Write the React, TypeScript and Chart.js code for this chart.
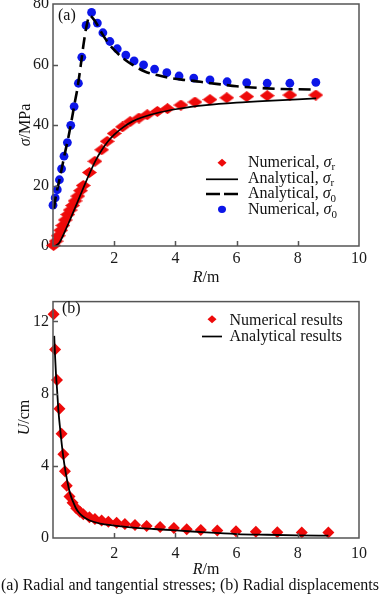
import React, { useEffect, useRef } from 'react';
import { Chart, registerables } from 'chart.js';

Chart.register(...registerables);

const FONT = '"Liberation Serif", "Times New Roman", Times, serif';
const RED = '#ee0a0a';
const BLUE = '#0c16e8';
const FRAME = '#555555';

// ---------- (a) Radial and tangential stresses ----------
const sigmaRNumX = [0.02, 0.1, 0.17, 0.25, 0.32, 0.4, 0.48, 0.56, 0.64, 0.72, 0.81, 0.9, 0.99, 1.19, 1.37, 1.59, 1.77, 2.0, 2.27, 2.52, 2.81, 3.08, 3.41, 3.74, 4.18, 4.64, 5.13, 5.68, 6.33, 7.0, 7.74, 8.59];
const sigmaRNumY = [0.2, 1.6, 3.4, 5.2, 6.8, 8.6, 10.4, 11.9, 13.4, 14.9, 16.5, 18.3, 20.0, 24.3, 28.0, 31.8, 34.6, 37.2, 39.4, 41.1, 42.3, 43.4, 44.5, 45.4, 46.6, 47.6, 48.4, 49.0, 49.4, 49.7, 49.9, 49.9];

const sigmaRAnaX = [0.06, 0.2, 0.4, 0.6, 0.8, 1.0, 1.2, 1.4, 1.6, 1.8, 2.0, 2.3, 2.6, 3.0, 3.5, 4.0, 4.5, 5.0, 6.0, 7.0, 8.0, 8.6];
const sigmaRAnaY = [0.0, 1.0, 5.1, 9.7, 14.5, 19.4, 24.1, 28.4, 31.8, 34.6, 36.8, 39.3, 41.2, 42.8, 44.2, 45.2, 46.0, 46.6, 47.4, 48.0, 48.5, 48.8];

const sigmaTAnaX = [0.03, 0.1, 0.2, 0.3, 0.4, 0.5, 0.6, 0.7, 0.8, 0.9, 1.0, 1.1, 1.2, 1.3, 1.45, 1.6, 1.8, 2.0, 2.3, 2.6, 3.0, 3.4, 3.8, 4.2, 4.6, 5.0, 5.5, 6.0, 6.5, 7.0, 7.5, 8.0, 8.6];
const sigmaTAnaY = [12.4, 16.8, 21.4, 26.3, 31.2, 35.8, 41.1, 46.8, 52.2, 59.2, 66.8, 72.9, 76.2, 75.3, 73.1, 70.3, 67.2, 64.8, 62.0, 59.9, 57.7, 56.5, 55.6, 55.0, 54.6, 54.0, 53.4, 52.8, 52.4, 52.1, 51.9, 51.8, 51.7];

const sigmaTNumX = [0.0, 0.07, 0.14, 0.21, 0.28, 0.36, 0.47, 0.58, 0.69, 0.83, 0.94, 1.08, 1.26, 1.45, 1.63, 1.86, 2.1, 2.38, 2.65, 2.96, 3.32, 3.72, 4.12, 4.6, 5.13, 5.69, 6.33, 7.0, 7.74, 8.59];
const sigmaTNumY = [13.5, 15.9, 18.6, 21.9, 25.5, 29.7, 34.2, 39.9, 46.1, 53.8, 62.4, 72.9, 77.2, 73.7, 70.5, 67.6, 65.2, 63.1, 61.2, 59.9, 58.5, 57.3, 56.2, 55.5, 54.9, 54.3, 54.0, 53.8, 53.8, 54.1];

// ---------- (b) Radial displacements ----------
const uNumX = [0.02, 0.07, 0.13, 0.21, 0.28, 0.34, 0.39, 0.45, 0.54, 0.64, 0.76, 0.88, 0.99, 1.19, 1.37, 1.59, 1.81, 2.08, 2.35, 2.68, 3.06, 3.5, 3.95, 4.37, 4.83, 5.37, 5.98, 6.63, 7.33, 8.13, 9.0];
const uNumY = [12.4, 10.45, 8.75, 7.16, 5.78, 4.64, 3.7, 2.9, 2.3, 1.95, 1.65, 1.45, 1.32, 1.15, 1.05, 0.97, 0.9, 0.84, 0.78, 0.72, 0.67, 0.61, 0.55, 0.48, 0.45, 0.41, 0.38, 0.35, 0.32, 0.31, 0.3];

const uAnaX = [0.04, 0.07, 0.1, 0.13, 0.18, 0.23, 0.3, 0.37, 0.45, 0.53, 0.6, 0.66, 0.75, 0.85, 1.0, 1.2, 1.54, 2.0, 2.62, 3.3, 4.04, 5.0, 6.0, 7.0, 8.0, 9.0];
const uAnaY = [11.2, 10.0, 9.0, 8.3, 7.0, 6.1, 5.0, 4.1, 3.3, 2.65, 2.25, 2.0, 1.65, 1.4, 1.16, 0.97, 0.8, 0.69, 0.58, 0.5, 0.42, 0.31, 0.22, 0.18, 0.15, 0.13];

// ---------- ticks ----------
const xTickLabels = [2, 4, 6, 8, 10];
const stressTicks = [0, 20, 40, 60, 80];
const dispTicks = [0, 4, 8, 12];

const legendA = [
  { text: 'Numerical, ', sub: 'r', kind: 'diamond' },
  { text: 'Analytical, ', sub: 'r', kind: 'solid' },
  { text: 'Analytical, ', sub: '0', kind: 'dash' },
  { text: 'Numerical, ', sub: '0', kind: 'circle' },
];
const legendB = [
  { text: 'Numerical results', kind: 'diamond' },
  { text: 'Analytical results', kind: 'solid' },
];

const zip = (xs: number[], ys: number[]) => xs.map((x, i) => ({ x, y: ys[i] }));

type Part = { t: string; it?: boolean; sub?: boolean };

function partFont(p: Part, size: number) {
  return `${p.it ? 'italic ' : ''}${p.sub ? Math.round(size * 0.68) : size}px ${FONT}`;
}

function drawRich(ctx: CanvasRenderingContext2D, parts: Part[], x: number, y: number, size: number, align: 'left' | 'center') {
  ctx.save();
  ctx.textBaseline = 'alphabetic';
  ctx.textAlign = 'left';
  ctx.fillStyle = '#111';
  let w = 0;
  for (const p of parts) {
    ctx.font = partFont(p, size);
    w += ctx.measureText(p.t).width;
  }
  let cx = align === 'center' ? x - w / 2 : x;
  for (const p of parts) {
    ctx.font = partFont(p, size);
    ctx.fillText(p.t, cx, p.sub ? y + size * 0.22 : y);
    cx += ctx.measureText(p.t).width;
  }
  ctx.restore();
}

function diamondImage(w: number, h: number, color: string) {
  const c = document.createElement('canvas');
  c.width = w;
  c.height = h;
  const g = c.getContext('2d')!;
  g.fillStyle = color;
  g.beginPath();
  g.moveTo(w / 2, 0);
  g.lineTo(w, h / 2);
  g.lineTo(w / 2, h);
  g.lineTo(0, h / 2);
  g.closePath();
  g.fill();
  return c;
}

type Decor = {
  panel: string;
  panelX: number;
  panelY: number;
  xTitleY: number;
  yTitle: Part[];
  yTitleX: number;
  yTitleCY: number;
  yTickMarks: number[];
  legend: { text: string; sub?: string; kind: string }[];
  legMarkX: number;
  legLineX0: number;
  legLineX1: number;
  legTextX: number;
  legRows: number[];
  legBase: number[];
};

function decorPlugin(d: Decor) {
  return {
    id: 'decor',
    afterDraw(chart: any) {
      const ctx: CanvasRenderingContext2D = chart.ctx;
      const a = chart.chartArea;
      const xs = chart.scales.x;
      const ys = chart.scales.y;
      ctx.save();
      // frame
      ctx.strokeStyle = FRAME;
      ctx.lineWidth = 1.5;
      ctx.strokeRect(a.left, a.top, a.right - a.left, a.bottom - a.top);
      // inward tick marks
      ctx.beginPath();
      for (const v of [2, 4, 6, 8]) {
        const px = Math.round(xs.getPixelForValue(v)) + 0.5;
        ctx.moveTo(px, a.bottom);
        ctx.lineTo(px, a.bottom - 5);
      }
      for (const v of d.yTickMarks) {
        const py = Math.round(ys.getPixelForValue(v)) + 0.5;
        ctx.moveTo(a.left, py);
        ctx.lineTo(a.left + 5, py);
      }
      ctx.stroke();
      ctx.restore();

      // panel label
      drawRich(ctx, [{ t: d.panel }], d.panelX, d.panelY, 16, 'left');
      // x title
      drawRich(ctx, [{ t: 'R', it: true }, { t: '/m' }], (a.left + a.right) / 2, d.xTitleY, 16, 'center');
      // y title
      ctx.save();
      ctx.translate(d.yTitleX, d.yTitleCY);
      ctx.rotate(-Math.PI / 2);
      drawRich(ctx, d.yTitle, 0, 0, 16, 'center');
      ctx.restore();

      // legend
      d.legend.forEach((item, i) => {
        const cy = d.legRows[i];
        ctx.save();
        if (item.kind === 'diamond') {
          ctx.fillStyle = RED;
          ctx.beginPath();
          ctx.moveTo(d.legMarkX, cy - 4);
          ctx.lineTo(d.legMarkX + 4.5, cy);
          ctx.lineTo(d.legMarkX, cy + 4);
          ctx.lineTo(d.legMarkX - 4.5, cy);
          ctx.closePath();
          ctx.fill();
        } else if (item.kind === 'circle') {
          ctx.fillStyle = BLUE;
          ctx.beginPath();
          ctx.ellipse(d.legMarkX, cy, 4, 3.6, 0, 0, Math.PI * 2);
          ctx.fill();
        } else {
          ctx.strokeStyle = '#000';
          ctx.lineWidth = item.kind === 'dash' ? 2.6 : 1.7;
          ctx.setLineDash(item.kind === 'dash' ? [14, 4] : []);
          ctx.beginPath();
          ctx.moveTo(d.legLineX0, cy);
          ctx.lineTo(d.legLineX1, cy);
          ctx.stroke();
        }
        ctx.restore();
        const parts: Part[] = item.sub
          ? [{ t: item.text }, { t: 'σ', it: true }, { t: item.sub, sub: true }]
          : [{ t: item.text }];
        drawRich(ctx, parts, d.legTextX, d.legBase[i], 16, 'left');
      });
    },
  };
}

function baseScales(yMax: number, yTicks: number[], xHeight: number, xPad: number) {
  return {
    x: {
      type: 'linear',
      min: 0,
      max: 10,
      afterBuildTicks: (s: any) => {
        s.ticks = xTickLabels.map((v) => ({ value: v }));
      },
      afterFit: (s: any) => {
        s.height = xHeight;
      },
      grid: { display: false, drawTicks: false, tickLength: 0 },
      border: { display: false },
      ticks: { font: { family: FONT, size: 16 }, color: '#1a1a1a', padding: xPad, maxRotation: 0 },
    },
    y: {
      type: 'linear',
      min: 0,
      max: yMax,
      afterBuildTicks: (s: any) => {
        s.ticks = yTicks.map((v) => ({ value: v }));
      },
      afterFit: (s: any) => {
        s.width = 53;
      },
      grid: { display: false, drawTicks: false, tickLength: 0 },
      border: { display: false },
      ticks: { font: { family: FONT, size: 16 }, color: '#1a1a1a', padding: 4 },
    },
  };
}

function StressChart() {
  const ref = useRef<HTMLCanvasElement>(null);
  useEffect(() => {
    const canvas = ref.current!;
    const dImg = diamondImage(15, 11, RED);
    const chart = new Chart(canvas, {
      type: 'scatter',
      data: {
        datasets: [
          {
            label: 'Analytical, σr',
            data: zip(sigmaRAnaX, sigmaRAnaY),
            showLine: true,
            borderColor: '#000',
            borderWidth: 1.7,
            pointRadius: 0,
            cubicInterpolationMode: 'monotone',
            order: 0,
          },
          {
            label: 'Analytical, σ0',
            data: zip(sigmaTAnaX, sigmaTAnaY),
            showLine: true,
            borderColor: '#000',
            borderWidth: 2.6,
            borderDash: [12, 6],
            pointRadius: 0,
            cubicInterpolationMode: 'monotone',
            order: 0,
          },
          {
            label: 'Numerical, σr',
            data: zip(sigmaRNumX, sigmaRNumY),
            showLine: false,
            pointStyle: dImg as any,
            pointRadius: 6,
            backgroundColor: RED,
            borderWidth: 0,
            clip: false as any,
            order: 1,
          },
          {
            label: 'Numerical, σ0',
            data: zip(sigmaTNumX, sigmaTNumY),
            showLine: false,
            pointStyle: 'circle',
            pointRadius: 4.4,
            backgroundColor: BLUE,
            borderWidth: 0,
            clip: false as any,
            order: 1,
          },
        ],
      },
      options: {
        animation: false,
        responsive: false,
        devicePixelRatio: 1,
        layout: { padding: { top: 14, right: 21, left: 0, bottom: 0 } },
        plugins: { legend: { display: false }, tooltip: { enabled: false }, title: { display: false } },
        scales: baseScales(80, stressTicks, 44, 3) as any,
      },
      plugins: [
        decorPlugin({
          panel: '(a)',
          panelX: 58,
          panelY: 29.5,
          xTitleY: 292,
          yTitle: [{ t: 'σ', it: true }, { t: '/MPa' }],
          yTitleX: 29.5,
          yTitleCY: 135,
          yTickMarks: [20, 40, 60],
          legend: legendA,
          legMarkX: 222,
          legLineX0: 206,
          legLineX1: 238,
          legTextX: 248,
          legRows: [172.7, 189.3, 204, 219.3],
          legBase: [176.7, 192.7, 208.3, 224],
        }),
      ],
    } as any);
    return () => chart.destroy();
  }, []);
  return (
    <canvas
      ref={ref}
      width={380}
      height={300}
      style={{ position: 'absolute', left: 0, top: -10, width: 380, height: 300 }}
    />
  );
}

function DispChart() {
  const ref = useRef<HTMLCanvasElement>(null);
  useEffect(() => {
    const canvas = ref.current!;
    const chart = new Chart(canvas, {
      type: 'scatter',
      data: {
        datasets: [
          {
            label: 'Analytical results',
            data: zip(uAnaX, uAnaY),
            showLine: true,
            borderColor: '#000',
            borderWidth: 1.8,
            pointRadius: 0,
            cubicInterpolationMode: 'monotone',
            order: 0,
          },
          {
            label: 'Numerical results',
            data: zip(uNumX, uNumY),
            showLine: false,
            pointStyle: 'rectRot',
            pointRadius: 6,
            backgroundColor: RED,
            borderWidth: 0,
            clip: false as any,
            order: 1,
          },
        ],
      },
      options: {
        animation: false,
        responsive: false,
        devicePixelRatio: 1,
        layout: { padding: { top: 9, right: 21, left: 0, bottom: 0 } },
        plugins: { legend: { display: false }, tooltip: { enabled: false }, title: { display: false } },
        scales: baseScales(13.1, dispTicks, 42, 6) as any,
      },
      plugins: [
        decorPlugin({
          panel: '(b)',
          panelX: 62,
          panelY: 25,
          xTitleY: 285.5,
          yTitle: [{ t: 'U', it: true }, { t: '/cm' }],
          yTitleX: 28.5,
          yTitleCY: 129.5,
          yTickMarks: [4, 8, 12],
          legend: legendB,
          legMarkX: 212,
          legLineX0: 202,
          legLineX1: 222,
          legTextX: 229.5,
          legRows: [31.3, 48.5],
          legBase: [37, 52.7],
        }),
      ],
    } as any);
    return () => chart.destroy();
  }, []);
  return (
    <canvas
      ref={ref}
      width={380}
      height={292}
      style={{ position: 'absolute', left: 0, top: 288, width: 380, height: 292 }}
    />
  );
}

export default function App() {
  return (
    <div style={{ position: 'absolute', left: 0, top: 0, width: 380, height: 596, overflow: 'hidden', background: '#fff' }}>
      <StressChart />
      <DispChart />
      <div
        style={{
          position: 'absolute',
          left: 0,
          top: 576,
          width: 380,
          textAlign: 'center',
          whiteSpace: 'nowrap',
          fontFamily: FONT,
          fontSize: 16,
          lineHeight: '18px',
          color: '#111',
        }}
      >
        (a) Radial and tangential stresses; (b) Radial displacements
      </div>
    </div>
  );
}
